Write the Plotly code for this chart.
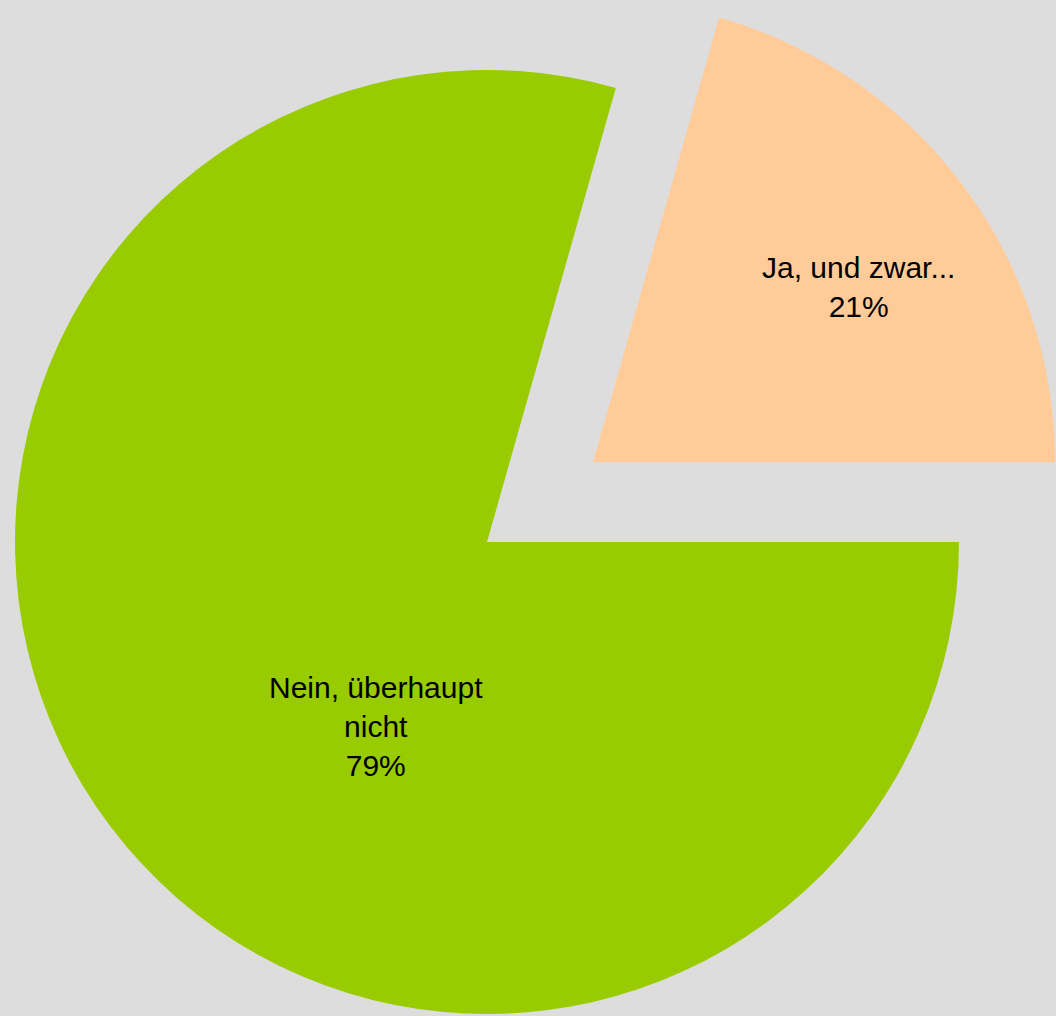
import plotly.graph_objects as go

# Data
labels = ["Ja, und zwar...", "Nein, überhaupt nicht"]
label_text = ["Ja, und zwar...", "Nein, überhaupt<br>nicht"]
values = [20.6, 79.4]
colors = ["#FFCC99", "#99CC00"]

total = sum(values)
pct = [round(v / total * 100) for v in values]
rotation = 90 - 360 * values[0] / total
transparent = "rgba(0,0,0,0)"

fig = go.Figure()

# Main (unpulled) slice: "Nein"
fig.add_trace(go.Pie(
    labels=labels, values=values, sort=False, direction="clockwise",
    rotation=rotation,
    marker=dict(colors=[transparent, colors[1]], line=dict(width=0)),
    textinfo="none", hoverinfo="label+percent", showlegend=False,
    domain=dict(x=[15 / 1056, 959 / 1056], y=[2 / 1016, 946 / 1016]),
))

# Exploded slice: "Ja"
fig.add_trace(go.Pie(
    labels=labels, values=values, sort=False, direction="clockwise",
    rotation=rotation,
    marker=dict(colors=[colors[0], transparent], line=dict(width=0)),
    textinfo="none", hoverinfo="label+percent", showlegend=False,
    domain=dict(x=[131 / 1056, 1055 / 1056], y=[92 / 1016, 1.0]),
))

label_pos = [(858 / 1056, 1 - 287 / 1016), (376 / 1056, 1 - 726 / 1016)]
for (x, y), txt, p in zip(label_pos, label_text, pct):
    fig.add_annotation(
        x=x, y=y, xref="paper", yref="paper", showarrow=False,
        xanchor="center", yanchor="middle",
        text=f"{txt}<br>{p}%", align="center",
        font=dict(family="Liberation Sans, Arial, sans-serif", size=30, color="#000000"),
    )

fig.update_layout(
    width=1056, height=1016,
    margin=dict(l=0, r=0, t=0, b=0),
    paper_bgcolor="#DDDDDD", plot_bgcolor="#DDDDDD",
)

fig.write_html(
    "out.html",
    config={"displayModeBar": False},
    post_script="document.body.style.margin='0';document.body.style.overflow='hidden';",
)
